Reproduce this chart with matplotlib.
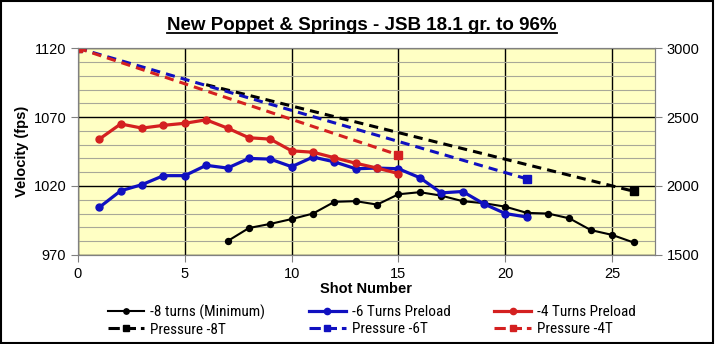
import matplotlib
matplotlib.use("Agg")
import matplotlib.pyplot as plt
from matplotlib import font_manager
from matplotlib.lines import Line2D
from matplotlib.patches import Rectangle

# velocity data (fps)
shots_8 = list(range(7, 27))
vel_8 = [980, 989.5, 992.5, 996, 1000, 1008.5, 1009, 1006.5, 1014, 1015.5,
         1013, 1009, 1007.5, 1005, 1000.5, 1000, 996.5, 988, 984.5, 979]
shots_6 = list(range(1, 22))
vel_6 = [1004.5, 1016.5, 1021, 1027.5, 1027.5, 1035, 1033, 1040, 1039.5, 1034,
         1041, 1037.5, 1032.5, 1033, 1032.5, 1026, 1015, 1016, 1007, 1000, 997.5]
shots_4 = list(range(1, 16))
vel_4 = [1054, 1065, 1062, 1064, 1065.5, 1068, 1062, 1055, 1054, 1045.5,
         1044.5, 1040.5, 1036.5, 1033, 1029]

# pressure (right axis)
press_shots_8 = [6, 26]
press_8 = [2735, 1962]
press_shots_6 = [0, 21]
press_6 = [3000, 2052]
press_shots_4 = [0, 15]
press_4 = [3000, 2225]

title = "New Poppet & Springs - JSB 18.1 gr. to 96%"

plt.rcParams['font.family'] = ['Liberation Sans', 'DejaVu Sans']

# legend uses a narrow face if one is around
installed = {f.name for f in font_manager.fontManager.ttflist}
narrow = None
for name in ['Liberation Sans Narrow', 'Arial Narrow', 'DejaVu Sans Condensed',
             'Roboto Condensed', 'Open Sans Condensed']:
    if name in installed:
        narrow = name
        break
if narrow:
    leg_font = {'family': [narrow, 'DejaVu Sans'], 'size': 11}
else:
    leg_font = {'family': ['Liberation Sans', 'DejaVu Sans'], 'size': 9.3}

fig = plt.figure(figsize=(7.15, 3.44), dpi=100)
ax = fig.add_axes([0.109, 0.259, 0.807, 0.601])
ax2 = ax.twinx()

ax.set_facecolor('#ffffc4')
ax.set_xlim(0, 27)
ax.set_ylim(970, 1120)
ax2.set_ylim(1500, 3000)
ax.set_xticks(range(0, 26, 5))
ax.set_yticks([970, 1020, 1070, 1120])
ax.set_yticks(range(970, 1121, 10), minor=True)
ax2.set_yticks([1500, 2000, 2500, 3000])

ax.grid(True, which='major', color='black', lw=1.0)
ax.grid(True, which='minor', axis='y', color='#a8a898', lw=0.8)
ax.set_axisbelow(True)
ax.tick_params(which='minor', left=False)
ax.tick_params(axis='both', labelsize=10.5, length=5, direction='out', color='#808080')
ax2.tick_params(axis='y', labelsize=10.5, length=5, direction='out', color='#808080')
for a in (ax, ax2):
    for s in a.spines.values():
        s.set_color('#808080')

l8, = ax.plot(shots_8, vel_8, color='black', lw=1.5, marker='o', ms=4.3, zorder=4)
l6, = ax.plot(shots_6, vel_6, color='#1010c0', lw=2.3, marker='o', ms=5, zorder=4)
l4, = ax.plot(shots_4, vel_4, color='#d42020', lw=2.3, marker='o', ms=5, zorder=4)

p8, = ax2.plot(press_shots_8, press_8, color='black', lw=2.2, ls=(0, (3, 2)),
               marker='s', ms=5.5, markevery=[1])
p6, = ax2.plot(press_shots_6, press_6, color='#1010c0', lw=2.2, ls=(0, (3, 2)), marker='s', ms=5.5)
p4, = ax2.plot(press_shots_4, press_4, color='#d42020', lw=2.2, ls=(0, (3, 2)), marker='s', ms=5.5)
ax2.set_zorder(ax.get_zorder() + 1)
ax2.patch.set_visible(False)

ax.set_xlabel("Shot Number", fontsize=10.5, fontweight='bold', labelpad=1)
ax.set_ylabel("Velocity (fps)", fontsize=10.5, fontweight='bold', labelpad=3)

# legend proxies so every handle shows its marker
leg_lines = [Line2D([], [], color=h.get_color(), lw=h.get_linewidth(), ls=h.get_linestyle(),
                    marker=h.get_marker(), ms=h.get_markersize())
             for h in [l8, p8, l6, p6, l4, p4]]
labels = ["-8 turns (Minimum)", "Pressure -8T", "-6 Turns Preload",
          "Pressure -6T", "-4 Turns Preload", "Pressure -4T"]
fig.legend(leg_lines, labels, ncol=3, loc='center', bbox_to_anchor=(0.52, 0.068),
           frameon=False, prop=leg_font, handlelength=2.4,
           handletextpad=0.4, columnspacing=2.85, labelspacing=0.2, markerscale=0.9)

t = fig.text(0.506, 0.925, title, ha='center', va='center', fontsize=13.5, fontweight='bold')
fig.canvas.draw()
bb = t.get_window_extent().transformed(fig.transFigure.inverted())
fig.add_artist(Line2D([bb.x0, bb.x1], [bb.y0 + 0.003, bb.y0 + 0.003], color='black', lw=1.3))

fig.add_artist(Rectangle((0.002, 0.003), 0.995, 0.994, fill=False, edgecolor='black', lw=1.5,
                         transform=fig.transFigure))

fig.savefig("out.png", dpi=100)
